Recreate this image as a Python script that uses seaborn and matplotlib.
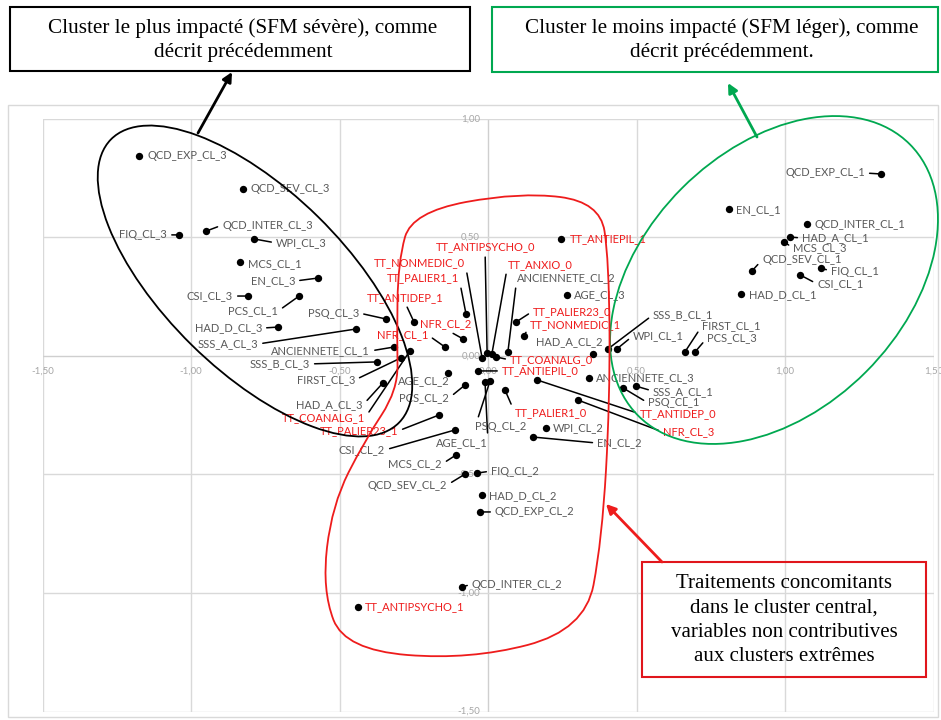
import matplotlib
matplotlib.use("Agg")
import matplotlib.pyplot as plt
import pandas as pd
import seaborn as sns
from matplotlib.patches import Ellipse, Rectangle, PathPatch, FancyArrowPatch
from matplotlib.path import Path
from matplotlib.transforms import Affine2D

W, H = 941, 720

# ---- data (coordinates) ----
names = [
    "QCD_EXP_CL_3", "QCD_SEV_CL_3", "QCD_INTER_CL_3", "FIQ_CL_3", "WPI_CL_3",
    "MCS_CL_1", "EN_CL_3", "CSI_CL_3", "PCS_CL_1", "HAD_D_CL_3", "SSS_A_CL_3",
    "PSQ_CL_3", "ANCIENNETE_CL_1", "SSS_B_CL_3", "FIRST_CL_3", "TT_COANALG_1",
    "HAD_A_CL_3", "TT_PALIER23_1", "AGE_CL_2", "PCS_CL_2", "CSI_CL_2", "AGE_CL_1",
    "PSQ_CL_2", "MCS_CL_2", "FIQ_CL_2", "QCD_SEV_CL_2", "HAD_D_CL_2",
    "QCD_EXP_CL_2", "QCD_INTER_CL_2", "TT_ANTIPSYCHO_1", "TT_PALIER1_0",
    "WPI_CL_2", "EN_CL_2", "TT_ANTIEPIL_0", "TT_NONMEDIC_0", "TT_ANTIPSYCHO_0",
    "TT_ANXIO_0", "TT_COANALG_0", "ANCIENNETE_CL_2", "TT_PALIER1_1",
    "TT_ANTIDEP_1", "NFR_CL_2", "NFR_CL_1", "TT_ANTIEPIL_1", "AGE_CL_3",
    "TT_PALIER23_0", "TT_NONMEDIC_1", "HAD_A_CL_2", "SSS_B_CL_1", "WPI_CL_1",
    "FIRST_CL_1", "PCS_CL_3", "ANCIENNETE_CL_3", "SSS_A_CL_1", "PSQ_CL_1",
    "TT_ANTIDEP_0", "NFR_CL_3", "QCD_EXP_CL_1", "EN_CL_1", "QCD_INTER_CL_1",
    "HAD_A_CL_1", "MCS_CL_3", "QCD_SEV_CL_1", "FIQ_CL_1", "CSI_CL_1", "HAD_D_CL_1",
]
dim1 = [
    -1.175, -0.825, -0.949, -1.040, -0.788,
    -0.835, -0.572, -0.808, -0.636, -0.707, -0.444,
    -0.343, -0.316, -0.374, -0.293, -0.263,
    -0.354, -0.165, -0.135, -0.077, -0.111, -0.010,
    0.007, -0.108, -0.037, -0.077, -0.020,
    -0.027, -0.088, -0.438, 0.057,
    0.195, 0.152, -0.034, -0.020, -0.003,
    0.013, 0.027, 0.067, -0.074,
    -0.249, -0.084, -0.145, 0.246, 0.266,
    0.094, 0.121, 0.354, 0.404, 0.434,
    0.663, 0.697, 0.340, 0.498, 0.455,
    0.165, 0.303, 1.323, 0.811, 1.074,
    1.017, 0.997, 0.889, 1.121, 1.051, 0.852,
]
dim2 = [
    0.844, 0.705, 0.527, 0.511, 0.494,
    0.397, 0.329, 0.253, 0.253, 0.122, 0.114,
    0.156, 0.038, -0.025, -0.008, 0.021,
    -0.114, -0.249, -0.072, -0.122, -0.312, -0.110,
    -0.105, -0.418, -0.494, -0.498, -0.586,
    -0.658, -0.975, -1.059, -0.143,
    -0.304, -0.342, -0.063, -0.008, 0.013,
    0.008, -0.004, 0.017, 0.177,
    0.143, 0.072, 0.038, 0.494, 0.257,
    0.143, 0.084, 0.008, 0.030, 0.030,
    0.017, 0.017, -0.093, -0.127, -0.135,
    -0.101, -0.186, 0.768, 0.620, 0.557,
    0.502, 0.481, 0.359, 0.371, 0.342, 0.262,
]
x_ticks = [-1.5, -1.0, -0.5, 0.0, 0.5, 1.0, 1.5]
y_ticks = [-1.5, -1.0, -0.5, 0.0, 0.5, 1.0]

box_black = "Cluster le plus impacté (SFM sévère), comme\ndécrit précédemment"
box_green = "Cluster le moins impacté (SFM léger), comme\ndécrit précédemment."
box_red = ("Traitements concomitants\ndans le cluster central,\n"
           "variables non contributives\naux clusters extrêmes")

# ---- label placement: offset in pixels (right, down) and alignment ----
label_pos = {
    "QCD_EXP_CL_3": (8, 0, "left"), "QCD_SEV_CL_3": (8, 0, "left"),
    "QCD_INTER_CL_3": (16, -6, "left"), "FIQ_CL_3": (-12, 0, "right"),
    "WPI_CL_3": (22, 4, "left"), "MCS_CL_1": (8, 2, "left"),
    "EN_CL_3": (-23, 3, "right"), "CSI_CL_3": (-15, 0, "right"),
    "PCS_CL_1": (-21, 15, "right"), "HAD_D_CL_3": (-16, 1, "right"),
    "SSS_A_CL_3": (-98, 15, "right"), "PSQ_CL_3": (-27, -6, "right"),
    "ANCIENNETE_CL_1": (-24, 4, "right"), "SSS_B_CL_3": (-67, 2, "right"),
    "FIRST_CL_3": (-46, 22, "right"), "TT_COANALG_1": (-45, 67, "right"),
    "HAD_A_CL_3": (-20, 22, "right"), "TT_PALIER23_1": (-41, 16, "right"),
    "AGE_CL_2": (2, 8, "right"), "PCS_CL_2": (-16, 13, "right"),
    "CSI_CL_2": (-70, 20, "right"), "AGE_CL_1": (3, 61, "right"),
    "PSQ_CL_2": (-15, 46, "left"), "MCS_CL_2": (-14, 9, "right"),
    "FIQ_CL_2": (14, -2, "left"), "QCD_SEV_CL_2": (-18, 11, "right"),
    "HAD_D_CL_2": (7, 1, "left"), "QCD_EXP_CL_2": (15, 0, "left"),
    "QCD_INTER_CL_2": (10, -3, "left"), "TT_ANTIPSYCHO_1": (7, 0, "left"),
    "TT_PALIER1_0": (10, 23, "left"), "WPI_CL_2": (7, 0, "left"),
    "EN_CL_2": (64, 6, "left"), "TT_ANTIEPIL_0": (24, 0, "left"),
    "TT_NONMEDIC_0": (-17, -95, "right"), "TT_ANTIPSYCHO_0": (-2, -106, "center"),
    "TT_ANXIO_0": (16, -90, "left"), "TT_COANALG_0": (14, 3, "left"),
    "ANCIENNETE_CL_2": (9, -74, "left"), "TT_PALIER1_1": (-7, -36, "right"),
    "TT_ANTIDEP_1": (-9, -25, "center"), "NFR_CL_2": (-17, -15, "center"),
    "NFR_CL_1": (-17, -12, "right"), "TT_ANTIEPIL_1": (9, 0, "left"),
    "AGE_CL_3": (7, 0, "left"), "TT_PALIER23_0": (17, -11, "left"),
    "TT_NONMEDIC_1": (6, -11, "left"), "HAD_A_CL_2": (9, -13, "right"),
    "SSS_B_CL_1": (45, -34, "left"), "WPI_CL_1": (16, -13, "left"),
    "FIRST_CL_1": (17, -26, "left"), "PCS_CL_3": (12, -14, "left"),
    "ANCIENNETE_CL_3": (7, 0, "left"), "SSS_A_CL_1": (17, 5, "left"),
    "PSQ_CL_1": (25, 15, "left"), "TT_ANTIDEP_0": (103, 34, "left"),
    "NFR_CL_3": (85, 32, "left"), "QCD_EXP_CL_1": (-16, -1, "right"),
    "EN_CL_1": (7, 1, "left"), "QCD_INTER_CL_1": (8, 1, "left"),
    "HAD_A_CL_1": (12, 1, "left"), "MCS_CL_3": (9, 6, "left"),
    "QCD_SEV_CL_1": (10, -11, "left"), "FIQ_CL_1": (10, 3, "left"),
    "CSI_CL_1": (17, 9, "left"), "HAD_D_CL_1": (8, 1, "left"),
}
no_leader = {"AGE_CL_2", "HAD_A_CL_2"}

GREY_TXT = "#595959"
RED = "#ee1c1c"
GREEN = "#00a850"

sns.set_style("white")
plt.rcParams["font.family"] = ["Lato", "DejaVu Sans"]

df = pd.DataFrame({"name": names, "dim1": dim1, "dim2": dim2})

fig = plt.figure(figsize=(W / 100, H / 100), dpi=100)
# pixel coordinates of the picture (origin top-left)
pix = Affine2D().scale(1 / W, -1 / H).translate(0, 1) + fig.transFigure

ax = fig.add_axes([42.5 / W, 8.5 / H, 891 / W, 592.5 / H])
ax.set_xlim(-1.5, 1.5)
ax.set_ylim(-1.5, 1.0)
ax.patch.set_alpha(0)
for s in ax.spines.values():
    s.set_visible(False)
ax.set_xticks([])
ax.set_yticks([])

for v in x_ticks:
    ax.axvline(v, color="#cfcfcf" if v == 0 else "#d9d9d9", lw=1.0, zorder=0)
for v in y_ticks:
    ax.axhline(v, color="#cfcfcf" if v == 0 else "#d9d9d9", lw=1.0, zorder=0)

for v in y_ticks:
    ax.annotate(f"{v:.2f}".replace(".", ","), (0, v), xytext=(-8, 0),
                textcoords="offset pixels", ha="right", va="center",
                fontsize=7, color="#a6a6a6", zorder=1)
for v in x_ticks:
    ax.annotate(f"{v:.2f}".replace(".", ","), (v, 0), xytext=(0, -15),
                textcoords="offset pixels", ha="center", va="center",
                fontsize=7, color="#a6a6a6", zorder=1)

sns.scatterplot(data=df, x="dim1", y="dim2", color="black", s=28,
                edgecolor="black", linewidth=0, ax=ax, zorder=5, legend=False)
ax.set_xlabel("")
ax.set_ylabel("")

for name, x, y in zip(names, dim1, dim2):
    dx, dy, ha = label_pos[name]
    color = RED if name.startswith(("TT_", "NFR_")) else GREY_TXT
    kw = {}
    if name not in no_leader and (dx * dx + dy * dy) ** 0.5 > 10:
        if ha == "left":
            rel = (0, 0.5)
        elif ha == "right":
            rel = (1, 0.5)
        else:
            rel = (0.5, 0) if dy < 0 else (0.5, 1)
        kw["arrowprops"] = dict(arrowstyle="-", color="black", lw=1.1,
                                shrinkA=1, shrinkB=2, relpos=rel)
    ax.annotate(name, (x, y), xytext=(dx, -dy), textcoords="offset pixels",
                ha=ha, va="center", fontsize=8, color=color, zorder=6, **kw)

# ---- decorations drawn in picture pixels ----
fig.add_artist(Rectangle((8, 105), 930, 612, fill=False, ec="#d9d9d9",
                         lw=1, transform=pix))

fig.add_artist(Ellipse((255, 281), 404, 180, angle=44.5, fill=False,
                       ec="black", lw=1.3, transform=pix, zorder=4))
fig.add_artist(Ellipse((774, 280), 384, 260, angle=-45, fill=False,
                       ec=GREEN, lw=1.3, transform=pix, zorder=4))

ctrl = [(397, 340), (398, 262), (412, 212), (520, 192), (600, 202),
        (609, 260), (610, 400), (602, 540), (585, 630), (470, 660),
        (345, 650), (322, 590), (332, 505), (365, 440), (398, 390)]
n = len(ctrl)
mid = lambda a, b: ((a[0] + b[0]) / 2, (a[1] + b[1]) / 2)
verts = [mid(ctrl[-1], ctrl[0])]
codes = [Path.MOVETO]
for i in range(n):
    verts += [ctrl[i], mid(ctrl[i], ctrl[(i + 1) % n])]
    codes += [Path.CURVE3, Path.CURVE3]
fig.add_artist(PathPatch(Path(verts, codes), fill=False, ec=RED, lw=1.3,
                         transform=pix, zorder=4))

serif = ["Liberation Serif", "DejaVu Serif"]
fig.add_artist(Rectangle((10, 7), 460, 64, fill=False, ec="black", lw=1.5,
                         transform=pix))
fig.text(243 / W, 1 - 40 / H, box_black, ha="center", va="center",
         family=serif, fontsize=15.2, linespacing=1.4, color="black")
fig.add_artist(Rectangle((492, 7), 446, 65, fill=False, ec=GREEN, lw=1.5,
                         transform=pix))
fig.text(722 / W, 1 - 40 / H, box_green, ha="center", va="center",
         family=serif, fontsize=15.2, linespacing=1.4, color="black")
fig.add_artist(Rectangle((642, 562), 284, 115, fill=False, ec="#e0161c",
                         lw=1.5, transform=pix))
fig.text(784 / W, 1 - 620 / H, box_red, ha="center", va="center",
         family=serif, fontsize=15, linespacing=1.38, color="black")

for a, b, c in [((198, 133), (232, 72), "black"),
                ((757, 137), (728, 83), GREEN),
                ((662, 562), (606, 504), RED)]:
    fig.add_artist(FancyArrowPatch(a, b, arrowstyle="-|>", mutation_scale=14,
                                   lw=2, color=c, transform=pix,
                                   shrinkA=0, shrinkB=0))

fig.savefig("out.png", dpi=100)
